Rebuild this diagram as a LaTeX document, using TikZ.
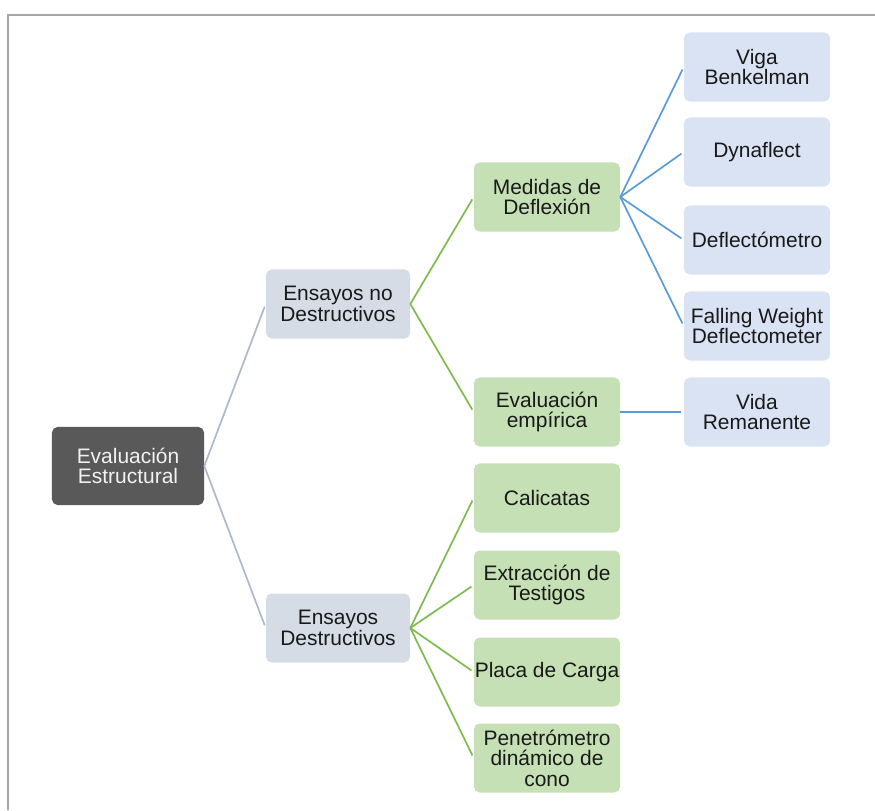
\documentclass[tikz,border=0pt]{standalone}
\usepackage{fontspec}
\setmainfont{Liberation Sans}

\definecolor{rootgray}{HTML}{595959}
\definecolor{greyblue}{HTML}{D6DCE5}
\definecolor{paleblue}{HTML}{DAE3F3}
\definecolor{softgreen}{HTML}{C5E0B4}
\definecolor{linkgray}{HTML}{ADB9CA}
\definecolor{linkgreen}{HTML}{7DBB4E}
\definecolor{linkblue}{HTML}{5B9BD5}
\definecolor{framegray}{HTML}{A6A6A6}

\begin{document}
\begin{tikzpicture}[x=0.025cm, y=-0.025cm,
    box/.style={rounded corners=4pt, inner sep=0pt, align=center, text=black!90,
        minimum width=3.65cm, minimum height=1.725cm,
        font=\fontsize{14.9}{14.5}\selectfont},
    rootbox/.style={box, fill=rootgray, text=white!95!black,
        minimum width=3.8cm, minimum height=1.95cm},
    onebox/.style={box, fill=greyblue, minimum width=3.6cm},
    twobox/.style={box, fill=softgreen},
    threebox/.style={box, fill=paleblue},
    link/.style={line width=1.2pt, shorten >=2pt}]

    \useasboundingbox (0,0) rectangle (875,810);

    % Frame
    \draw[framegray, line width=1.5pt] (875,15) -- (8,15) -- (8,810);

    % Root
    \node[rootbox] (root) at (128,466) {Evaluaci\'on\\Estructural};

    % Level 1
    \node[onebox] (ndt) at (338,304) {Ensayos no\\Destructivos};
    \node[onebox] (dt) at (338,628) {Ensayos\\Destructivos};

    % Level 2
    \node[twobox] (med) at (547,197) {Medidas de\\Deflexi\'on};
    \node[twobox] (emp) at (547,412) {Evaluaci\'on\\emp\'irica};
    \node[twobox] (cal) at (547,498) {Calicatas};
    \node[twobox] (ext) at (547,585) {Extracci\'on de\\Testigos};
    \node[twobox] (pla) at (547,672) {Placa de Carga};
    \node[twobox] (pen) at (547,758) {Penetr\'ometro\\din\'amico de\\cono};

    % Level 3
    \node[threebox] (vig) at (757,67) {Viga\\Benkelman};
    \node[threebox] (dyn) at (757,152) {Dynaflect};
    \node[threebox] (dfl) at (757,240) {Deflect\'ometro};
    \node[threebox] (fwd) at (757,326) {Falling Weight\\Deflectometer};
    \node[threebox] (vid) at (757,412) {Vida\\Remanente};

    % Connectors
    \foreach \c in {ndt,dt}
        \draw[link, linkgray] (root.east) -- (\c.west);
    \foreach \c in {med,emp}
        \draw[link, linkgreen] (ndt.east) -- (\c.west);
    \foreach \c in {cal,ext,pla,pen}
        \draw[link, linkgreen] (dt.east) -- (\c.west);
    \foreach \c in {vig,dyn,dfl,fwd}
        \draw[link, linkblue] (med.east) -- (\c.west);
    \draw[link, linkblue] (emp.east) -- (vid.west);

\end{tikzpicture}
\end{document}
